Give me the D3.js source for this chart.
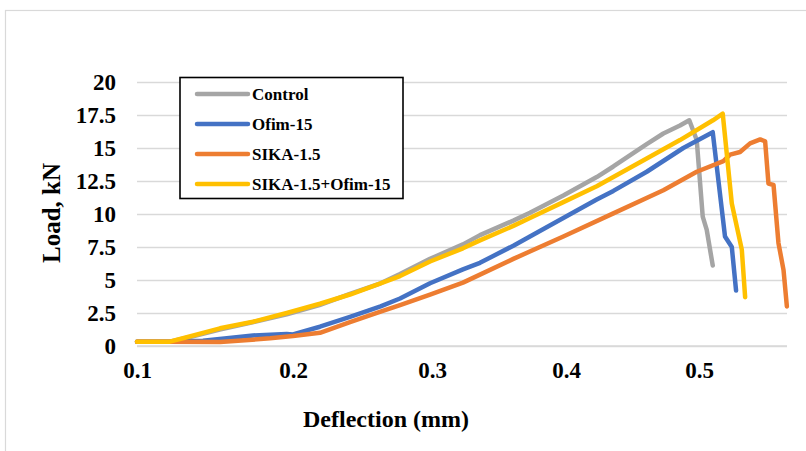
<!DOCTYPE html>
<html>
<head>
<meta charset="utf-8">
<script src="https://cdn.jsdelivr.net/npm/d3@7"></script>
<style>
  html, body { margin: 0; padding: 0; background: #fff; }
  svg { display: block; }
  text { font-family: "Liberation Serif", "Times New Roman", serif; font-weight: bold; fill: #000; }
</style>
</head>
<body>
<svg id="chart" width="806" height="451"></svg>
<script>
// ---- data (deflection mm, load kN) ----
const seriesNames = ["Control", "Ofim-15", "SIKA-1.5", "SIKA-1.5+Ofim-15"];
const seriesColors = ["#A5A5A5", "#4472C4", "#ED7D31", "#FFC000"];

const controlData = [
  [0.1,0.33],[0.121,0.33],[0.132,0.62],[0.153,1.25],[0.174,1.8],[0.196,2.4],[0.219,3.1],
  [0.241,3.95],[0.263,4.75],[0.277,5.45],[0.2986,6.6],[0.3231,7.7],[0.3358,8.4],[0.3607,9.5],
  [0.3731,10.1],[0.398,11.4],[0.4231,12.8],[0.4356,13.6],[0.4607,15.3],[0.4732,16.1],
  [0.4857,16.7],[0.4927,17.1],[0.4983,15.6],[0.5028,9.8],[0.5058,8.8],[0.5103,6.1]
];
const ofimData = [
  [0.1,0.33],[0.12,0.33],[0.1423,0.4],[0.1744,0.8],[0.196,0.9],[0.2,0.88],[0.2194,1.46],
  [0.241,2.2],[0.263,3.0],[0.277,3.6],[0.2986,4.75],[0.3231,5.8],[0.3358,6.3],[0.3607,7.6],
  [0.3731,8.3],[0.398,9.7],[0.4231,11.1],[0.4356,11.75],[0.4607,13.2],[0.4882,15.0],
  [0.5103,16.2],[0.5195,8.3],[0.5246,7.5],[0.5278,4.2]
];
const sikaData = [
  [0.1,0.33],[0.12,0.33],[0.1532,0.3],[0.1853,0.58],[0.2,0.75],[0.2194,1.0],[0.241,1.8],
  [0.263,2.6],[0.277,3.1],[0.2986,3.9],[0.3231,4.8],[0.3607,6.6],[0.398,8.3],[0.4356,10.05],
  [0.4732,11.8],[0.4983,13.2],[0.5183,14.0],[0.5233,14.5],[0.5308,14.7],[0.5383,15.35],
  [0.5459,15.65],[0.5496,15.5],[0.5521,12.3],[0.5559,12.2],[0.5596,7.8],[0.5634,5.75],[0.5659,3.0]
];
const sikaOfimData = [
  [0.1,0.33],[0.121,0.33],[0.1319,0.66],[0.1532,1.34],[0.1744,1.84],[0.196,2.5],[0.2194,3.2],
  [0.241,3.9],[0.263,4.75],[0.277,5.3],[0.2986,6.4],[0.3231,7.4],[0.3358,8.0],[0.3607,9.1],
  [0.3731,9.7],[0.398,10.9],[0.4231,12.1],[0.4356,12.8],[0.4607,14.2],[0.4857,15.6],
  [0.5105,17.1],[0.5178,17.6],[0.5246,10.8],[0.5321,7.3],[0.5346,3.7]
];
const allSeries = [controlData, ofimData, sikaData, sikaOfimData];

const xTicks = [0.1, 0.2, 0.3, 0.4, 0.5];
const yTicks = [0, 2.5, 5, 7.5, 10, 12.5, 15, 17.5, 20];
const xTitle = "Deflection (mm)";
const yTitle = "Load, kN";

// ---- layout ----
const svg = d3.select("#chart");
const plot = { left: 137, right: 787, top: 82, bottom: 346 };

// chart border (cropped on right/bottom)
svg.append("rect")
  .attr("x", 5.5).attr("y", 10.5).attr("width", 900).attr("height", 500)
  .attr("fill", "none").attr("stroke", "#d9d9d9").attr("stroke-width", 1.2);

// x axis positions follow the (non-uniform) tick placement of the original
const x = d3.scaleLinear()
  .domain([0.1, 0.2, 0.3, 0.4, 0.5, 0.566])
  .range([137, 293, 432, 566, 699, 787]);
const y = d3.scaleLinear().domain([0, 20]).range([plot.bottom, plot.top]);

// gridlines
const yAxisGrid = d3.axisLeft(y).tickValues(yTicks).tickSize(-(plot.right - plot.left)).tickFormat("");
const gGrid = svg.append("g").attr("transform", `translate(${plot.left},0)`).call(yAxisGrid);
gGrid.select(".domain").remove();
gGrid.selectAll("line").attr("stroke", "#d9d9d9").attr("stroke-width", 1.3);

// y tick labels
const yAxis = d3.axisLeft(y).tickValues(yTicks).tickSize(0).tickPadding(21)
  .tickFormat(d => String(d));
const gy = svg.append("g").attr("transform", `translate(${plot.left},0)`).call(yAxis);
gy.select(".domain").remove();
gy.selectAll("text").attr("font-size", 23).attr("font-family", "Liberation Serif").attr("font-weight", "bold").attr("fill", "#000");

// x tick labels
const xAxis = d3.axisBottom(x).tickValues(xTicks).tickSize(0).tickPadding(16)
  .tickFormat(d => String(d));
const gx = svg.append("g").attr("transform", `translate(0,${plot.bottom})`).call(xAxis);
gx.select(".domain").attr("stroke", "#d9d9d9").attr("stroke-width", 1.5)
  .attr("d", `M${plot.left},0H${plot.right}`);
gx.selectAll("text").attr("font-size", 23).attr("font-family", "Liberation Serif").attr("font-weight", "bold").attr("fill", "#000");

// series lines
const line = d3.line().x(d => x(d[0])).y(d => y(d[1]));
allSeries.forEach((data, i) => {
  svg.append("path")
    .datum(data)
    .attr("d", line)
    .attr("fill", "none")
    .attr("stroke", seriesColors[i])
    .attr("stroke-width", 4.5)
    .attr("stroke-linejoin", "round")
    .attr("stroke-linecap", "round");
});

// axis titles
svg.append("text")
  .attr("x", 386).attr("y", 427)
  .attr("text-anchor", "middle")
  .attr("font-size", 24)
  .text(xTitle);
svg.append("text")
  .attr("transform", "translate(60,213) rotate(-90)")
  .attr("text-anchor", "middle")
  .attr("font-size", 25)
  .text(yTitle);

// legend
const lg = svg.append("g");
lg.append("rect")
  .attr("x", 180).attr("y", 77.5).attr("width", 223).attr("height", 121)
  .attr("fill", "#fff").attr("stroke", "#000").attr("stroke-width", 1.6);
seriesNames.forEach((name, i) => {
  const cy = 94 + i * 30;
  lg.append("line")
    .attr("x1", 197).attr("x2", 248).attr("y1", cy).attr("y2", cy)
    .attr("stroke", seriesColors[i]).attr("stroke-width", 4.5).attr("stroke-linecap", "round");
  lg.append("text")
    .attr("x", 252).attr("y", cy + 6)
    .attr("font-size", 17)
    .text(name);
});
</script>
</body>
</html>
